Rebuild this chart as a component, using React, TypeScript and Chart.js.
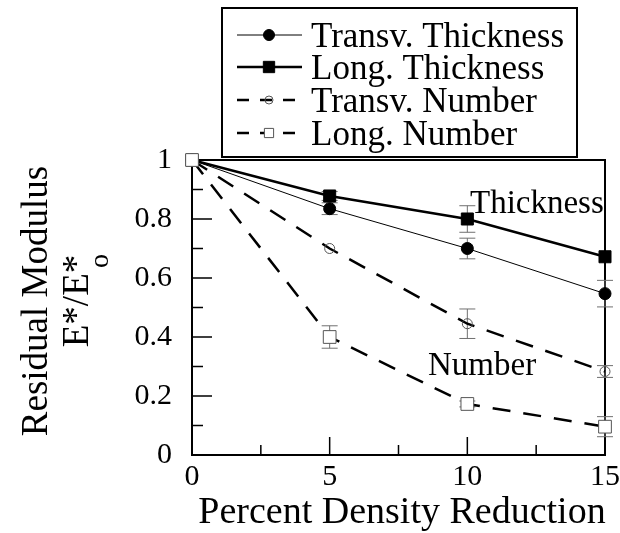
import React, { useEffect, useRef } from 'react';
import { Chart, registerables } from 'chart.js';

Chart.register(...registerables);

// Percent density reduction (x) and normalized residual modulus E*/E*o (y)
const densityReduction = [0, 5, 10, 15];
const transvThickness = [1, 0.835, 0.7, 0.547];
const longThickness = [1, 0.878, 0.8, 0.672];
const transvNumber = [1, 0.7, 0.445, 0.283];
const longNumber = [1, 0.4, 0.173, 0.096];

// Half-widths of the error bars
const transvThicknessErr = [0, 0.02, 0.035, 0.045];
const longThicknessErr = [0, 0.015, 0.045, 0];
const transvNumberErr = [0, 0, 0.05, 0.02];
const longNumberErr = [0, 0.038, 0.01, 0.034];

const seriesLabels = ['Transv. Thickness', 'Long. Thickness', 'Transv. Number', 'Long. Number'];
const xTickLabels = [0, 5, 10, 15];
const yMajorTicks = [0.2, 0.4, 0.6, 0.8];
const yMinorTicks = [0.1, 0.3, 0.5, 0.7, 0.9];
const xMajorTicks = [5, 10];
const xMinorTicks = [2.5, 7.5, 12.5];

const SERIF = "'Liberation Serif', 'Times New Roman', serif";

const seriesValues = [transvThickness, longThickness, transvNumber, longNumber];
const seriesErrors = [transvThicknessErr, longThicknessErr, transvNumberErr, longNumberErr];

const toPoints = (vals: number[]) => densityReduction.map((x, i) => ({ x, y: vals[i] }));

function drawMarker(ctx: CanvasRenderingContext2D, style: string, x: number, y: number, r: number, fill: string, stroke: string, lw: number) {
  ctx.beginPath();
  if (style === 'rect') {
    const s = r * Math.SQRT1_2;
    ctx.rect(x - s, y - s, 2 * s, 2 * s);
  } else {
    ctx.arc(x, y, r, 0, Math.PI * 2);
  }
  if (fill !== 'transparent') {
    ctx.fillStyle = fill;
    ctx.fill();
  }
  ctx.lineWidth = lw;
  ctx.strokeStyle = stroke;
  ctx.stroke();
}

const decorations = {
  id: 'decorations',
  beforeDatasetsDraw(chart: any) {
    const { ctx, chartArea: a, scales } = chart;
    const xs = scales.x;
    const ys = scales.y;
    ctx.save();

    // plot frame
    ctx.strokeStyle = '#000';
    ctx.lineWidth = 2;
    ctx.strokeRect(a.left, a.top, a.right - a.left, a.bottom - a.top);

    // inward tick marks
    ctx.lineWidth = 1.5;
    ctx.beginPath();
    yMajorTicks.forEach((v) => {
      const p = ys.getPixelForValue(v);
      ctx.moveTo(a.left, p);
      ctx.lineTo(a.left + 20, p);
    });
    yMinorTicks.forEach((v) => {
      const p = ys.getPixelForValue(v);
      ctx.moveTo(a.left, p);
      ctx.lineTo(a.left + 11, p);
    });
    xMajorTicks.forEach((v) => {
      const p = xs.getPixelForValue(v);
      ctx.moveTo(p, a.bottom);
      ctx.lineTo(p, a.bottom - 18);
    });
    xMinorTicks.forEach((v) => {
      const p = xs.getPixelForValue(v);
      ctx.moveTo(p, a.bottom);
      ctx.lineTo(p, a.bottom - 10);
    });
    ctx.stroke();

    // x tick labels
    ctx.fillStyle = '#000';
    ctx.font = `30px ${SERIF}`;
    ctx.textAlign = 'center';
    ctx.textBaseline = 'alphabetic';
    xTickLabels.forEach((v) => {
      ctx.fillText(String(v), xs.getPixelForValue(v), a.bottom + 30);
    });

    // error bars
    ctx.strokeStyle = '#707070';
    ctx.lineWidth = 1;
    seriesErrors.forEach((errs, si) => {
      const vals = seriesValues[si];
      densityReduction.forEach((xv, i) => {
        const e = errs[i];
        if (!e) return;
        const px = xs.getPixelForValue(xv);
        const top = ys.getPixelForValue(vals[i] + e);
        const bot = ys.getPixelForValue(vals[i] - e);
        ctx.beginPath();
        ctx.moveTo(px, top);
        ctx.lineTo(px, bot);
        ctx.moveTo(px - 8, top);
        ctx.lineTo(px + 8, top);
        ctx.moveTo(px - 8, bot);
        ctx.lineTo(px + 8, bot);
        ctx.stroke();
      });
    });
    ctx.restore();
  },
  afterDraw(chart: any) {
    const { ctx } = chart;
    ctx.save();
    ctx.fillStyle = '#000';
    ctx.textBaseline = 'alphabetic';

    // group annotations
    ctx.font = `33px ${SERIF}`;
    ctx.textAlign = 'left';
    ctx.fillText('Thickness', 470, 213);
    ctx.fillText('Number', 428, 375);

    // x axis title
    ctx.font = `38px ${SERIF}`;
    ctx.textAlign = 'center';
    ctx.fillText('Percent Density Reduction', 402, 523);

    // y axis title (rotated)
    ctx.save();
    ctx.translate(0, 301);
    ctx.rotate(-Math.PI / 2);
    ctx.font = `37px ${SERIF}`;
    ctx.textAlign = 'center';
    ctx.fillText('Residual Modulus', 0, 47);
    ctx.fillText('E*/E*', 0, 88);
    ctx.font = `28px ${SERIF}`;
    ctx.textAlign = 'left';
    ctx.fillText('o', 33, 108);
    ctx.restore();

    // legend box
    const bx = 222, by = 8, bw = 355, bh = 149;
    ctx.fillStyle = '#fff';
    ctx.fillRect(bx, by, bw, bh);
    ctx.strokeStyle = '#000';
    ctx.lineWidth = 2;
    ctx.strokeRect(bx, by, bw, bh);

    const rows = [35, 67, 100, 133];
    chart.data.datasets.forEach((ds: any, i: number) => {
      const yy = rows[i];
      ctx.save();
      ctx.strokeStyle = '#000';
      ctx.lineWidth = ds.borderWidth;
      ctx.setLineDash(ds.borderDash ? [12, 11] : []);
      ctx.beginPath();
      ctx.moveTo(237, yy);
      ctx.lineTo(302, yy);
      ctx.stroke();
      ctx.restore();
      const r = ds.pointStyle === 'rect' ? (i === 1 ? 8 : 6.5) : (i === 0 ? 5.5 : 4);
      drawMarker(ctx, ds.pointStyle, 269, yy, r, ds.pointBackgroundColor, ds.pointBorderColor, ds.pointBorderWidth);
      ctx.fillStyle = '#000';
      ctx.font = `35px ${SERIF}`;
      ctx.textAlign = 'left';
      ctx.fillText(seriesLabels[i], 311, yy + 12);
    });
    ctx.restore();
  },
};

export default function App() {
  const canvasRef = useRef<HTMLCanvasElement | null>(null);

  useEffect(() => {
    if (!canvasRef.current) return;
    const dashed = [18, 13];
    const chart = new Chart(canvasRef.current, {
      type: 'line',
      data: {
        datasets: [
          {
            label: seriesLabels[0],
            data: toPoints(transvThickness),
            borderColor: '#000',
            borderWidth: 1,
            pointStyle: 'circle',
            pointRadius: 6,
            pointBackgroundColor: '#000',
            pointBorderColor: '#000',
            pointBorderWidth: 1,
            order: 3,
          },
          {
            label: seriesLabels[1],
            data: toPoints(longThickness),
            borderColor: '#000',
            borderWidth: 2.5,
            pointStyle: 'rect',
            pointRadius: 8.5,
            pointBackgroundColor: '#000',
            pointBorderColor: '#000',
            pointBorderWidth: 1,
            order: 2,
          },
          {
            label: seriesLabels[2],
            data: toPoints(transvNumber),
            borderColor: '#000',
            borderWidth: 2.5,
            borderDash: dashed,
            pointStyle: 'circle',
            pointRadius: 5,
            pointBackgroundColor: 'transparent',
            pointBorderColor: '#555',
            pointBorderWidth: 1,
            order: 1,
          },
          {
            label: seriesLabels[3],
            data: toPoints(longNumber),
            borderColor: '#000',
            borderWidth: 2.5,
            borderDash: dashed,
            pointStyle: 'rect',
            pointRadius: 9,
            pointBackgroundColor: '#fff',
            pointBorderColor: '#555',
            pointBorderWidth: 1,
            order: 0,
          },
        ],
      },
      options: {
        animation: false,
        responsive: true,
        maintainAspectRatio: false,
        layout: { padding: { top: 160, right: 15, left: 0, bottom: 0 } },
        elements: { line: { tension: 0 } },
        datasets: { line: { clip: false } as any },
        plugins: {
          legend: { display: false },
          tooltip: { enabled: false },
          title: { display: false },
        },
        scales: {
          x: {
            type: 'linear',
            min: 0,
            max: 15,
            grid: { display: false, drawTicks: false },
            border: { display: false },
            ticks: { display: false, stepSize: 5 },
            afterFit: (s: any) => {
              s.height = 78;
            },
          },
          y: {
            type: 'linear',
            min: 0,
            max: 1,
            grid: { display: false, drawTicks: false },
            border: { display: false },
            ticks: {
              stepSize: 0.2,
              padding: 20,
              color: '#000',
              font: { family: SERIF, size: 30 },
              callback: (v: any) => (v === 0 || v === 1 ? String(v) : Number(v).toFixed(1)),
            },
            afterFit: (s: any) => {
              s.width = 192;
            },
          },
        },
      },
      plugins: [decorations],
    });
    return () => chart.destroy();
  }, []);

  return (
    <div style={{ position: 'absolute', left: 0, top: 0, width: 620, height: 533, background: '#fff' }}>
      <canvas ref={canvasRef} />
    </div>
  );
}
